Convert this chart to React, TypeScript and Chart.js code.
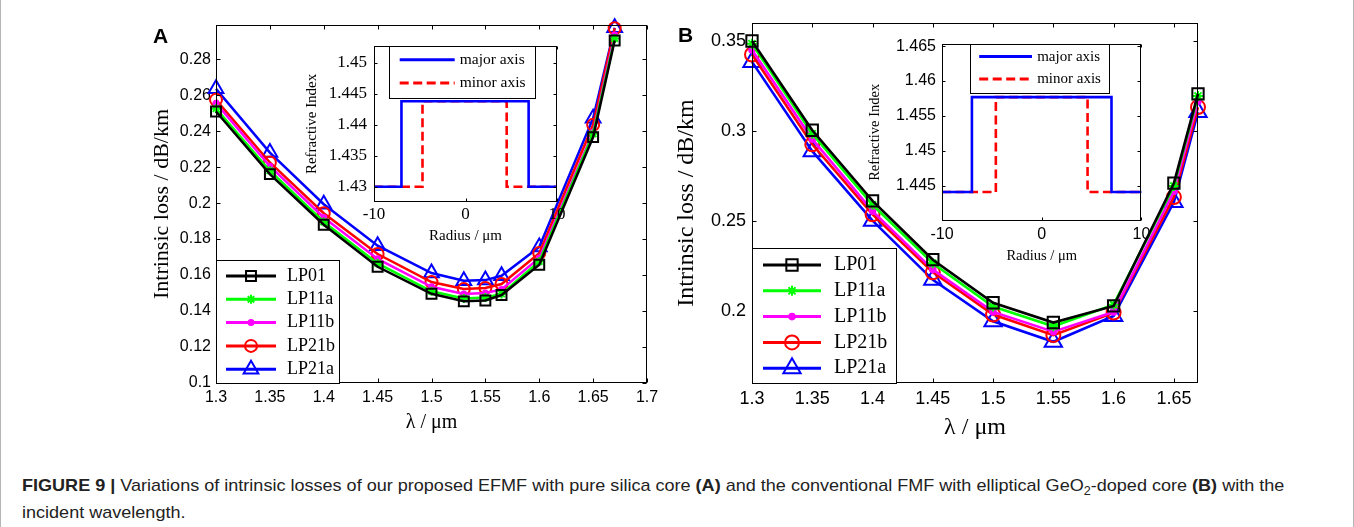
import React, { useEffect, useLayoutEffect, useRef, useState } from 'react';
import { Chart, registerables } from 'chart.js';

Chart.register(...registerables);

const SANS = "'Liberation Sans', Arial, Helvetica, sans-serif";
const SERIF = "'Liberation Serif', 'Times New Roman', Times, serif";

// ---------------- Panel A data ----------------
const wavelengthA = [1.3, 1.35, 1.4, 1.45, 1.5, 1.53, 1.55, 1.565, 1.6, 1.65, 1.67];
const lp01A = [0.2509, 0.2161, 0.188, 0.1646, 0.1496, 0.1454, 0.1459, 0.1489, 0.1657, 0.2367, 0.2904];
const lp11aA = [0.2525, 0.218, 0.1895, 0.1665, 0.151, 0.147, 0.1475, 0.1495, 0.1675, 0.2385, 0.2915];
const lp11bA = [0.2555, 0.2205, 0.192, 0.169, 0.1535, 0.1495, 0.15, 0.152, 0.1695, 0.2395, 0.2935];
const lp21bA = [0.2574, 0.2226, 0.1944, 0.1717, 0.1561, 0.1522, 0.1528, 0.155, 0.1722, 0.2435, 0.2972];
const lp21aA = [0.2635, 0.2281, 0.1994, 0.1763, 0.1611, 0.1568, 0.1572, 0.1596, 0.1756, 0.2472, 0.2975];
const xTicksA = [1.3, 1.35, 1.4, 1.45, 1.5, 1.55, 1.6, 1.65, 1.7];
const yTicksA = [0.1, 0.12, 0.14, 0.16, 0.18, 0.2, 0.22, 0.24, 0.26, 0.28];

// ---------------- Panel B data ----------------
const wavelengthB = [1.3, 1.35, 1.4, 1.45, 1.5, 1.55, 1.6, 1.65, 1.67];
const lp01B = [0.35, 0.3004, 0.2612, 0.2285, 0.2046, 0.1936, 0.2028, 0.271, 0.3206];
const lp11aB = [0.3485, 0.2985, 0.259, 0.2265, 0.2025, 0.1915, 0.2035, 0.2695, 0.3195];
const lp11bB = [0.345, 0.2955, 0.2555, 0.223, 0.1995, 0.1885, 0.1995, 0.2665, 0.3165];
const lp21bB = [0.3425, 0.2926, 0.2537, 0.2215, 0.198, 0.1866, 0.1991, 0.2633, 0.3133];
const lp21aB = [0.3384, 0.2888, 0.2502, 0.2173, 0.1943, 0.1829, 0.1972, 0.2605, 0.3105];
const xTicksB = [1.3, 1.35, 1.4, 1.45, 1.5, 1.55, 1.6, 1.65];
const yTicksB = [0.2, 0.25, 0.3, 0.35];

// ---------------- Inset (refractive index profiles) ----------------
const majorRadiusA = [-10, -7, -7, 6.9, 6.9, 10];
const majorIndexA = [1.43, 1.43, 1.4438, 1.4438, 1.43, 1.43];
const minorRadiusA = [-10, -4.7, -4.7, 4.5, 4.5, 10];
const minorIndexA = [1.43, 1.43, 1.4438, 1.4438, 1.43, 1.43];
const majorRadiusB = [-10, -7, -7, 7, 7, 10];
const majorIndexB = [1.4441, 1.4441, 1.4577, 1.4577, 1.4441, 1.4441];
const minorRadiusB = [-10, -4.6, -4.6, 4.6, 4.6, 10];
const minorIndexB = [1.4441, 1.4441, 1.4577, 1.4577, 1.4441, 1.4441];
const radiusTicks = [-10, 0, 10];
const indexTicksA = [1.43, 1.435, 1.44, 1.445, 1.45];
const indexTicksB = [1.445, 1.45, 1.455, 1.46, 1.465];

// ---------------- Series styling ----------------
const modeLabels = ['LP01', 'LP11a', 'LP11b', 'LP21b', 'LP21a'];
const modeColors = ['#000000', '#00ff00', '#ff00ff', '#ff0000', '#0000ff'];
const modeMarkers = ['rect', 'star', 'circle', 'circle', 'triangle'];
const modeFilled = [false, false, true, false, false];
const markerSizeA = [7, 4.5, 2.5, 6, 8.5];
const markerSizeB = [8, 5, 2.8, 7, 10];
const profileLabels = ['major axis', 'minor axis'];
const profileColors = ['#0000ff', '#ff0000'];
const profileDashes: number[][] = [[], [9, 4.5]];

const fmt = (v: number) => String(parseFloat(Number(v).toFixed(4)));

function drawMarker(ctx: CanvasRenderingContext2D, style: string, x: number, y: number, r: number, color: string, filled: boolean, lw: number) {
  ctx.save();
  ctx.strokeStyle = color;
  ctx.fillStyle = color;
  ctx.lineWidth = lw;
  ctx.setLineDash([]);
  ctx.beginPath();
  if (style === 'rect') {
    const s = r * Math.SQRT1_2;
    ctx.rect(x - s, y - s, 2 * s, 2 * s);
  } else if (style === 'circle') {
    ctx.arc(x, y, r, 0, Math.PI * 2);
  } else if (style === 'triangle') {
    for (let k = 0; k < 3; k++) {
      const a = (k * 2 * Math.PI) / 3;
      const px = x + Math.sin(a) * r;
      const py = y - Math.cos(a) * r;
      if (k === 0) ctx.moveTo(px, py);
      else ctx.lineTo(px, py);
    }
    ctx.closePath();
  } else if (style === 'star') {
    for (let k = 0; k < 4; k++) {
      const a = (k * Math.PI) / 4;
      ctx.moveTo(x - Math.cos(a) * r, y - Math.sin(a) * r);
      ctx.lineTo(x + Math.cos(a) * r, y + Math.sin(a) * r);
    }
  }
  if (filled) ctx.fill();
  ctx.stroke();
  ctx.restore();
}

type LegendSpec = {
  box: (ca: any) => { x: number; y: number; w: number; h: number };
  rowY: number[];
  lineX1: number;
  lineX2: number;
  markerX?: number;
  textX: number;
  font: string;
  lineWidth: number;
  entries: { label: string; color: string; dash?: number[]; marker?: string; r?: number; filled?: boolean }[];
};

function decorPlugin(tickLen: number, legend: LegendSpec, panelLabel?: { text: string; x: number; y: number }) {
  return {
    id: 'decor',
    afterDraw(chart: any) {
      const ctx: CanvasRenderingContext2D = chart.ctx;
      const ca = chart.chartArea;
      const xs = chart.scales.x;
      const ys = chart.scales.y;
      ctx.save();
      ctx.strokeStyle = '#000';
      ctx.lineWidth = 1;
      ctx.setLineDash([]);
      const L = Math.round(ca.left) + 0.5;
      const R = Math.round(ca.right) - 0.5;
      const T = Math.round(ca.top) + 0.5;
      const B = Math.round(ca.bottom) - 0.5;
      ctx.strokeRect(L, T, R - L, B - T);
      ctx.beginPath();
      xs.ticks.forEach((t: any) => {
        const px = Math.round(xs.getPixelForValue(t.value)) + 0.5;
        ctx.moveTo(px, B);
        ctx.lineTo(px, B - tickLen);
        ctx.moveTo(px, T);
        ctx.lineTo(px, T + tickLen);
      });
      ys.ticks.forEach((t: any) => {
        const py = Math.round(ys.getPixelForValue(t.value)) + 0.5;
        ctx.moveTo(L, py);
        ctx.lineTo(L + tickLen, py);
        ctx.moveTo(R, py);
        ctx.lineTo(R - tickLen, py);
      });
      ctx.stroke();

      // legend
      const bx = legend.box(ca);
      const x0 = Math.round(bx.x) + 0.5;
      const y0 = Math.round(bx.y) + 0.5;
      ctx.fillStyle = '#fff';
      ctx.fillRect(x0, y0, bx.w, bx.h);
      ctx.strokeStyle = '#000';
      ctx.lineWidth = 1;
      ctx.strokeRect(x0, y0, Math.round(bx.w), Math.round(bx.h));
      legend.entries.forEach((e, i) => {
        const y = bx.y + legend.rowY[i];
        ctx.save();
        ctx.strokeStyle = e.color;
        ctx.lineWidth = legend.lineWidth;
        ctx.setLineDash(e.dash || []);
        ctx.beginPath();
        ctx.moveTo(bx.x + legend.lineX1, y);
        ctx.lineTo(bx.x + legend.lineX2, y);
        ctx.stroke();
        ctx.restore();
        if (e.marker) {
          drawMarker(ctx, e.marker, bx.x + (legend.markerX || 0), y, e.r || 4, e.color, !!e.filled, 2);
        }
        ctx.fillStyle = '#000';
        ctx.font = legend.font;
        ctx.textAlign = 'left';
        ctx.textBaseline = 'middle';
        ctx.fillText(e.label, bx.x + legend.textX, y);
      });

      if (panelLabel) {
        ctx.fillStyle = '#000';
        ctx.font = `bold 21px ${SANS}`;
        ctx.textAlign = 'left';
        ctx.textBaseline = 'alphabetic';
        ctx.fillText(panelLabel.text, panelLabel.x, panelLabel.y);
      }
      ctx.restore();
    },
  };
}

type AxisSpec = {
  min: number;
  max: number;
  ticks: number[];
  size: number; // axis box size (height for x, width for y)
  tickFont: any;
  tickPadding: number;
  title: string;
  titleFont: any;
  titlePadding: any;
};

function axis(spec: AxisSpec, horizontal: boolean) {
  return {
    type: 'linear',
    min: spec.min,
    max: spec.max,
    afterBuildTicks: (s: any) => {
      s.ticks = spec.ticks.map((v) => ({ value: v }));
    },
    afterFit: (s: any) => {
      if (horizontal) s.height = spec.size;
      else s.width = spec.size;
    },
    grid: { display: false, drawTicks: false },
    border: { display: false },
    ticks: {
      color: '#000',
      font: spec.tickFont,
      padding: spec.tickPadding,
      maxRotation: 0,
      minRotation: 0,
      autoSkip: false,
      callback: (v: number) => fmt(v),
    },
    title: {
      display: true,
      text: spec.title,
      color: '#000',
      font: spec.titleFont,
      padding: spec.titlePadding,
    },
  };
}

function mainConfig(p: {
  xs: number[];
  series: number[][];
  radii: number[];
  lineWidth: number;
  pad: any;
  x: AxisSpec;
  y: AxisSpec;
  legend: LegendSpec;
  label: { text: string; x: number; y: number };
}) {
  const datasets = p.series.map((vals, k) => ({
    label: modeLabels[k],
    data: p.xs.map((x, i) => ({ x, y: vals[i] })),
    borderColor: modeColors[k],
    backgroundColor: modeColors[k],
    borderWidth: p.lineWidth,
    pointStyle: modeMarkers[k],
    pointRadius: p.radii[k],
    pointHoverRadius: p.radii[k],
    pointBorderWidth: 2,
    pointBorderColor: modeColors[k],
    pointBackgroundColor: modeFilled[k] ? modeColors[k] : 'rgba(0,0,0,0)',
    tension: 0,
    fill: false,
    clip: false,
  }));
  return {
    type: 'line',
    data: { datasets },
    options: {
      responsive: false,
      animation: false,
      devicePixelRatio: 1,
      events: [],
      layout: { padding: p.pad },
      plugins: { legend: { display: false }, tooltip: { enabled: false } },
      scales: { x: axis(p.x, true), y: axis(p.y, false) },
    },
    plugins: [decorPlugin(4, p.legend, p.label)],
  };
}

function insetConfig(p: {
  major: [number[], number[]];
  minor: [number[], number[]];
  pad: any;
  x: AxisSpec;
  y: AxisSpec;
  legend: LegendSpec;
}) {
  const mk = (xs: number[], ys: number[], k: number) => ({
    label: profileLabels[k],
    data: xs.map((x, i) => ({ x, y: ys[i] })),
    borderColor: profileColors[k],
    borderWidth: 2.6,
    borderDash: profileDashes[k],
    pointRadius: 0,
    tension: 0,
    fill: false,
    clip: false,
  });
  return {
    type: 'line',
    data: { datasets: [mk(p.major[0], p.major[1], 0), mk(p.minor[0], p.minor[1], 1)] },
    options: {
      responsive: false,
      animation: false,
      devicePixelRatio: 1,
      events: [],
      layout: { padding: p.pad },
      plugins: { legend: { display: false }, tooltip: { enabled: false } },
      scales: { x: axis(p.x, true), y: axis(p.y, false) },
    },
    plugins: [decorPlugin(3, p.legend)],
  };
}

const mainLegendEntries = (radii: number[]) =>
  modeLabels.map((label, k) => ({ label, color: modeColors[k], marker: modeMarkers[k], r: radii[k], filled: modeFilled[k] }));
const profileLegendEntries = profileLabels.map((label, k) => ({ label, color: profileColors[k], dash: profileDashes[k] }));

const sansFont = (size: number) => ({ family: SANS, size, lineHeight: 1 });
const serifFont = (size: number) => ({ family: SERIF, size, lineHeight: 1 });

function ChartCanvas({ left, top, width, height, build, z }: any) {
  const ref = useRef<HTMLCanvasElement>(null);
  useEffect(() => {
    const chart = new Chart(ref.current as HTMLCanvasElement, build() as any);
    return () => chart.destroy();
  }, []);
  return (
    <canvas
      ref={ref}
      width={width}
      height={height}
      style={{ position: 'absolute', left, top, width, height, zIndex: z }}
    />
  );
}

const buildA = () =>
  mainConfig({
    xs: wavelengthA,
    series: [lp01A, lp11aA, lp11bA, lp21bA, lp21aA],
    radii: markerSizeA,
    lineWidth: 2.5,
    pad: { left: 0, right: 23, top: 25, bottom: 0 },
    x: {
      min: 1.3, max: 1.7, ticks: xTicksA, size: 57,
      tickFont: sansFont(16), tickPadding: 7,
      title: 'λ / μm', titleFont: serifFont(20), titlePadding: { top: 0, bottom: 7 },
    },
    y: {
      min: 0.1, max: 0.299, ticks: yTicksA, size: 86,
      tickFont: sansFont(16), tickPadding: 5,
      title: 'Intrinsic loss / dB/km', titleFont: serifFont(22), titlePadding: { top: 21, bottom: 0 },
    },
    legend: {
      box: (ca: any) => ({ x: ca.left, y: ca.bottom - 123, w: 123, h: 123 }),
      rowY: [16, 39.3, 62.6, 85.9, 109.2],
      lineX1: 10, lineX2: 60, markerX: 35, textX: 71,
      font: `18px ${SERIF}`, lineWidth: 3,
      entries: mainLegendEntries(markerSizeA),
    },
    label: { text: 'A', x: 23, y: 43.3 },
  });

const buildB = () =>
  mainConfig({
    xs: wavelengthB,
    series: [lp01B, lp11aB, lp11bB, lp21bB, lp21aB],
    radii: markerSizeB,
    lineWidth: 2.6,
    pad: { left: 0, right: 22, top: 23, bottom: 0 },
    x: {
      min: 1.3, max: 1.67, ticks: xTicksB, size: 62,
      tickFont: sansFont(18), tickPadding: 7,
      title: 'λ / μm', titleFont: serifFont(24), titlePadding: { top: 0, bottom: 5 },
    },
    y: {
      min: 0.16, max: 0.36, ticks: yTicksB, size: 82,
      tickFont: sansFont(18), tickPadding: 6,
      title: 'Intrinsic loss / dB/km', titleFont: serifFont(24), titlePadding: { top: 5, bottom: 0 },
    },
    legend: {
      box: (ca: any) => ({ x: ca.left, y: ca.bottom - 135, w: 144, h: 135 }),
      rowY: [17, 42.8, 68.6, 94.4, 120.2],
      lineX1: 11, lineX2: 69, markerX: 40, textX: 82,
      font: `20px ${SERIF}`, lineWidth: 3,
      entries: mainLegendEntries(markerSizeB),
    },
    label: { text: 'B', x: 8, y: 42 },
  });

const buildInsetA = () =>
  insetConfig({
    major: [majorRadiusA, majorIndexA],
    minor: [minorRadiusA, minorIndexA],
    pad: { left: 0, right: 13, top: 12.5, bottom: 0 },
    x: {
      min: -10, max: 10, ticks: radiusTicks, size: 52.7,
      tickFont: serifFont(17), tickPadding: 4.2,
      title: 'Radius / μm', titleFont: serifFont(15), titlePadding: { top: 0, bottom: 11.5 },
    },
    y: {
      min: 1.4275, max: 1.4528, ticks: indexTicksA, size: 84,
      tickFont: serifFont(17), tickPadding: 7,
      title: 'Refractive Index', titleFont: serifFont(15), titlePadding: { top: 14.5, bottom: 0 },
    },
    legend: {
      box: (ca: any) => ({ x: ca.left + 15, y: ca.top, w: 146, h: 52 }),
      rowY: [14.2, 37.5],
      lineX1: 10.7, lineX2: 65.7, textX: 70.7,
      font: `15.5px ${SERIF}`, lineWidth: 3,
      entries: profileLegendEntries,
    },
  });

const buildInsetB = () =>
  insetConfig({
    major: [majorRadiusB, majorIndexB],
    minor: [minorRadiusB, minorIndexB],
    pad: { left: 0, right: 18.6, top: 11.7, bottom: 0 },
    x: {
      min: -10, max: 10, ticks: radiusTicks, size: 54.3,
      tickFont: sansFont(16), tickPadding: 6.3,
      title: 'Radius / μm', titleFont: serifFont(14.5), titlePadding: { top: 0, bottom: 11.5 },
    },
    y: {
      min: 1.44, max: 1.4653, ticks: indexTicksB, size: 82,
      tickFont: sansFont(16), tickPadding: 6,
      title: 'Refractive Index', titleFont: serifFont(14.5), titlePadding: { top: 8.2, bottom: 0 },
    },
    legend: {
      box: (ca: any) => ({ x: ca.left + 27.5, y: ca.top, w: 139, h: 49.3 }),
      rowY: [12.6, 35],
      lineX1: 9.7, lineX2: 62.5, textX: 67.7,
      font: `15px ${SERIF}`, lineWidth: 3,
      entries: profileLegendEntries,
    },
  });

function Caption() {
  const ref = useRef<HTMLSpanElement>(null);
  const [k, setK] = useState(1);
  useLayoutEffect(() => {
    if (ref.current) {
      const w = ref.current.offsetWidth;
      if (w > 0) setK(1262 / w);
    }
  }, []);
  return (
    <div
      style={{
        position: 'absolute',
        left: 22,
        top: 471.5,
        fontFamily: SANS,
        fontSize: 17,
        lineHeight: '27px',
        color: '#222',
        whiteSpace: 'nowrap',
        transformOrigin: '0 0',
        transform: `scaleX(${k})`,
      }}
    >
      <div>
        <span ref={ref} style={{ display: 'inline-block' }}>
          <b>FIGURE 9 |</b> Variations of intrinsic losses of our proposed EFMF with pure silica core <b>(A)</b> and the
          conventional FMF with elliptical GeO
          <sub style={{ fontSize: '0.7em', lineHeight: 0, verticalAlign: 'sub' }}>2</sub>-doped core <b>(B)</b> with the
        </span>
      </div>
      <div>incident wavelength.</div>
    </div>
  );
}

export default function App() {
  return (
    <div
      style={{
        position: 'absolute',
        left: 0,
        top: 0,
        width: 1354,
        height: 527,
        background: '#fff',
        overflow: 'hidden',
      }}
    >
      <ChartCanvas left={130} top={0} width={540} height={440} build={buildA} z={1} />
      <ChartCanvas left={670} top={0} width={550} height={445} build={buildB} z={1} />
      <ChartCanvas left={290} top={30} width={280} height={225} build={buildInsetA} z={2} />
      <ChartCanvas left={860} top={30} width={300} height={245} build={buildInsetB} z={2} />
      <Caption />
      <div style={{ position: 'absolute', left: 0, top: 0, width: 1, height: 527, background: '#b5b5b5' }} />
      <div style={{ position: 'absolute', left: 1353, top: 0, width: 1, height: 527, background: '#b5b5b5' }} />
    </div>
  );
}
